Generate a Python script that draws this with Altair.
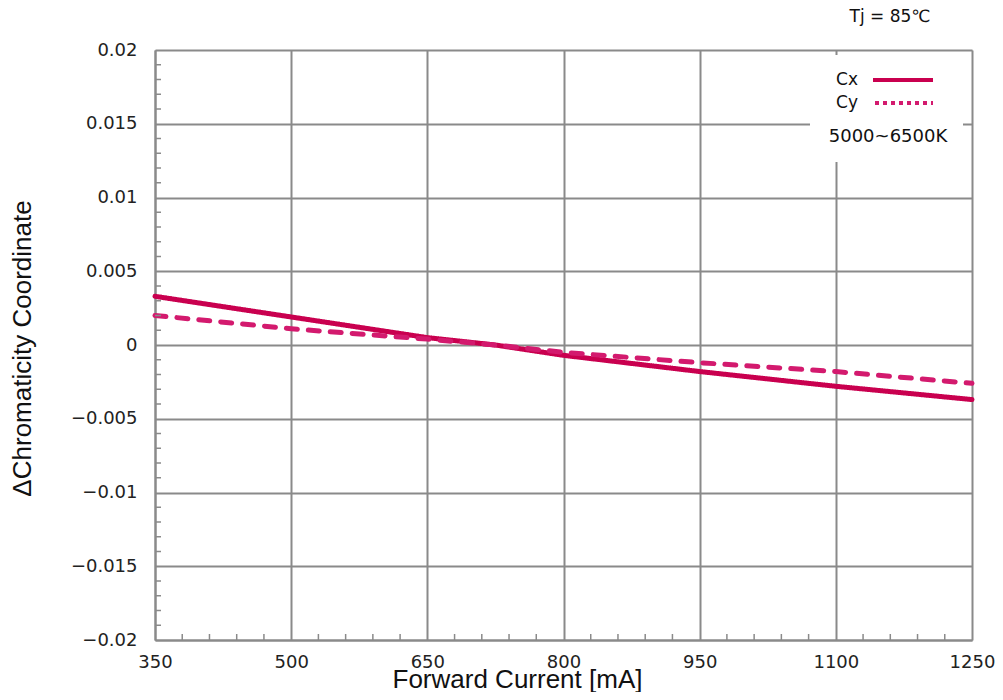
import altair as alt
import pandas as pd

# ---- data ----
current = [350, 500, 650, 725, 800, 950, 1100, 1250]
cx = [0.0033, 0.0019, 0.0005, 0.0, -0.0007, -0.0018, -0.0028, -0.0037]
cy = [0.0020, 0.0011, 0.0004, 0.0, -0.0005, -0.0012, -0.0018, -0.0026]

x_ticks = [350, 500, 650, 800, 950, 1100, 1250]
y_ticks = [-0.02, -0.015, -0.01, -0.005, 0, 0.005, 0.01, 0.015, 0.02]
x_minor = [v for v in range(350, 1251, 30) if (v - 350) % 150 != 0]
y_minor = [round(-0.02 + i * 0.001, 3) for i in range(41) if i % 5 != 0]

series_names = ["Cx", "Cy"]
series_colors = ["#C9004F", "#D31A6E"]

rows = []
for c, a, b in zip(current, cx, cy):
    rows.append({"current": c, "value": a, "series": "Cx"})
    rows.append({"current": c, "value": b, "series": "Cy"})
df = pd.DataFrame(rows)

W, H = 817, 590
GRID = "#8a8a8a"
TICKFONT = "DejaVu Sans"
TITLEFONT = "Liberation Sans"

xscale = alt.Scale(domain=[350, 1250], nice=False, zero=False)
yscale = alt.Scale(domain=[-0.02, 0.02], nice=False, zero=False)

lines = alt.Chart(df).mark_line(strokeWidth=5, strokeCap="round").encode(
    x=alt.X("current:Q", scale=xscale,
            axis=alt.Axis(values=x_ticks, format="d", title="Forward Current [mA]",
                          grid=True, gridColor=GRID, gridWidth=2,
                          domainColor=GRID, domainWidth=2, ticks=False,
                          labelFont=TICKFONT, labelFontSize=18, labelColor="#222",
                          labelPadding=13, labelFlush=False,
                          titleFont=TITLEFONT, titleFontSize=26, titleFontWeight="normal",
                          titleColor="#111", titleX=362, titleY=47,
                          titleBaseline="alphabetic", titleAlign="center")),
    y=alt.Y("value:Q", scale=yscale,
            axis=alt.Axis(values=y_ticks, format=".3~f", title="ΔChromaticity Coordinate",
                          grid=True, gridColor=GRID, gridWidth=2,
                          domainColor=GRID, domainWidth=2, ticks=False,
                          labelFont=TICKFONT, labelFontSize=18, labelColor="#222",
                          labelPadding=18, labelFlush=False,
                          titleFont=TITLEFONT, titleFontSize=26, titleFontWeight="normal",
                          titleColor="#111", titleX=-125, titleY=298,
                          titleBaseline="alphabetic", titleAlign="center", titleAngle=270)),
    color=alt.Color("series:N", scale=alt.Scale(domain=series_names, range=series_colors), legend=None),
    strokeDash=alt.StrokeDash("series:N", scale=alt.Scale(domain=series_names, range=[[1, 0], [11, 11]]), legend=None),
)

ymin_df = pd.DataFrame({"y": y_minor})
xmin_df = pd.DataFrame({"x": x_minor})

y_minor_ticks = alt.Chart(ymin_df).mark_rule(color=GRID, strokeWidth=1.5).encode(
    y=alt.Y("y:Q", scale=yscale), x=alt.value(0), x2=alt.value(6))
x_minor_ticks = alt.Chart(xmin_df).mark_rule(color=GRID, strokeWidth=1.5).encode(
    x=alt.X("x:Q", scale=xscale), y=alt.value(H), y2=alt.value(H - 6))

# legend box
box = alt.Chart(pd.DataFrame({"k": [0]})).mark_rect(fill="white").encode(
    x=alt.value(655), x2=alt.value(808), y=alt.value(5), y2=alt.value(112))

leg_df = pd.DataFrame({"series": series_names, "ypix": [30, 53]})
leg_text = alt.Chart(leg_df).mark_text(font=TICKFONT, fontSize=17, align="center", baseline="middle", color="#111").encode(
    x=alt.value(692), y=alt.Y("ypix:Q", scale=None), text="series:N")
leg_cx = alt.Chart(pd.DataFrame({"k": [0]})).mark_rule(color=series_colors[0], strokeWidth=4).encode(
    x=alt.value(718), x2=alt.value(778), y=alt.value(30))
leg_cy = alt.Chart(pd.DataFrame({"k": [0]})).mark_rule(color=series_colors[1], strokeWidth=4, strokeDash=[4, 4]).encode(
    x=alt.value(720), x2=alt.value(778), y=alt.value(53))
cct = alt.Chart(pd.DataFrame({"t": ["5000~6500K"]})).mark_text(font=TICKFONT, fontSize=18, align="center", baseline="middle", color="#111").encode(
    x=alt.value(733), y=alt.value(87), text="t:N")
tj = alt.Chart(pd.DataFrame({"t": ["Tj = 85℃"]})).mark_text(font=TICKFONT, fontSize=17, align="center", baseline="middle", color="#111").encode(
    x=alt.value(735), y=alt.value(-33), text="t:N")

chart = alt.layer(lines, y_minor_ticks, x_minor_ticks, box, leg_text, leg_cx, leg_cy, cct, tj).properties(
    width=W, height=H,
    autosize=alt.AutoSizeParams(type="none"),
    padding={"left": 147, "top": 42, "right": 23, "bottom": 52},
).configure_view(stroke=GRID, strokeWidth=2).configure(background="white")

chart.save("out.html", embed_options={"renderer": "svg", "actions": False})
